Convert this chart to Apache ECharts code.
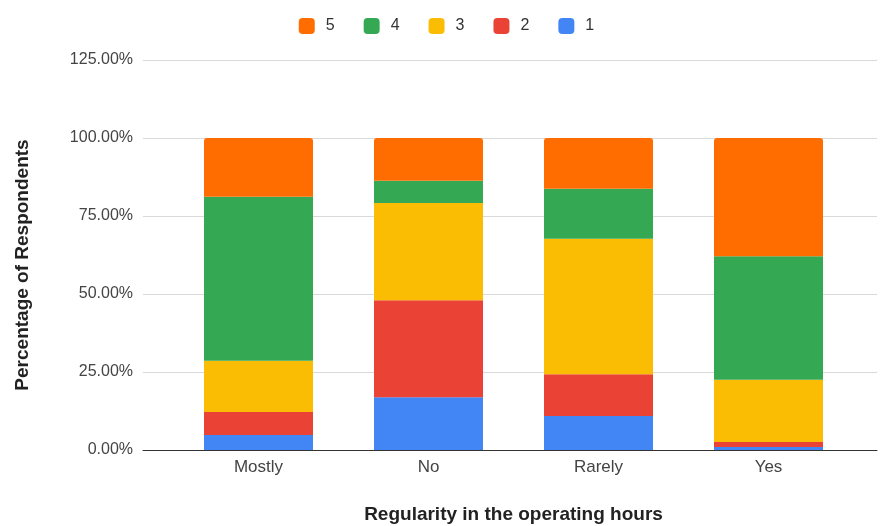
<!DOCTYPE html>
<html>
<head>
<meta charset="utf-8">
<script src="https://cdn.jsdelivr.net/npm/echarts@6/dist/echarts.min.js"></script>
<style>
  html, body { margin: 0; padding: 0; background: #fff; }
  #chart { width: 893px; height: 526px; }
</style>
</head>
<body>
<div id="chart"></div>
<script>
const categories = ['Mostly', 'No', 'Rarely', 'Yes']
const seriesNames = ['1', '2', '3', '4', '5']
// percentages per answer, one list per rating
const rating1 = [4.8, 16.9, 10.9, 1.0]
const rating2 = [7.4, 31.1, 13.4, 1.6]
const rating3 = [16.4, 31.2, 43.4, 19.9]
const rating4 = [52.6, 7.1, 16.0, 39.6]
const rating5 = [18.8, 13.7, 16.3, 37.9]
const colors = ['#4285F4', '#EA4335', '#FBBC04', '#34A853', '#FF6D01']

const font = 'Liberation Sans, Arial, sans-serif'
const values = [rating1, rating2, rating3, rating4, rating5]

const chart = echarts.init(document.getElementById('chart'))

const series = values.map((vals, i) => ({
  name: seriesNames[i],
  type: 'bar',
  stack: 'total',
  xAxisIndex: 1,
  yAxisIndex: 1,
  barWidth: 109,
  data: vals,
  itemStyle: {
    color: colors[i],
    borderRadius: i === values.length - 1 ? [3, 3, 0, 0] : 0
  }
}))

const option = {
  animation: false,
  textStyle: { fontFamily: font },
  legend: {
    top: 13,
    left: 'center',
    data: ['5', '4', '3', '2', '1'],
    icon: 'roundRect',
    itemWidth: 16,
    itemHeight: 16,
    itemGap: 29,
    textStyle: { fontSize: 16, color: '#333', fontFamily: font, padding: [0, 0, 0, 6] }
  },
  grid: [
    { left: 143, right: 16, top: 60, bottom: 76, outerBoundsMode: 'none' },
    { left: 173.5, right: 39.5, top: 60, bottom: 76, outerBoundsMode: 'none' }
  ],
  xAxis: [
    {
      gridIndex: 0,
      type: 'value',
      min: 0,
      max: 1,
      axisLine: { show: true, onZero: false, lineStyle: { color: '#333', width: 1 } },
      axisTick: { show: false },
      axisLabel: { show: false },
      splitLine: { show: false }
    },
    {
      gridIndex: 1,
      type: 'category',
      data: categories,
      axisLine: { show: false },
      axisTick: { show: false },
      axisLabel: { color: '#444', fontSize: 17, margin: 9, fontFamily: font },
      name: 'Regularity in the operating hours',
      nameLocation: 'middle',
      nameGap: 55,
      nameTextStyle: { color: '#222', fontSize: 19, fontWeight: 'bold', fontFamily: font }
    }
  ],
  yAxis: [
    {
      gridIndex: 0,
      type: 'value',
      min: 0,
      max: 125,
      interval: 25,
      axisLine: { show: false },
      axisTick: { show: false },
      axisLabel: {
        color: '#444',
        fontSize: 16,
        margin: 10,
        fontFamily: font,
        formatter: v => v.toFixed(2) + '%'
      },
      splitLine: { lineStyle: { color: '#d9d9d9', width: 1 } },
      name: 'Percentage of Respondents',
      nameLocation: 'middle',
      nameGap: 111,
      nameTextStyle: {
        color: '#222',
        fontSize: 19,
        fontWeight: 'bold',
        fontFamily: font,
        padding: [0, 20, 0, 0]
      }
    },
    {
      gridIndex: 1,
      type: 'value',
      min: 0,
      max: 125,
      interval: 25,
      show: false,
      splitLine: { show: false }
    }
  ],
  series: series
}

chart.setOption(option)
</script>
</body>
</html>
